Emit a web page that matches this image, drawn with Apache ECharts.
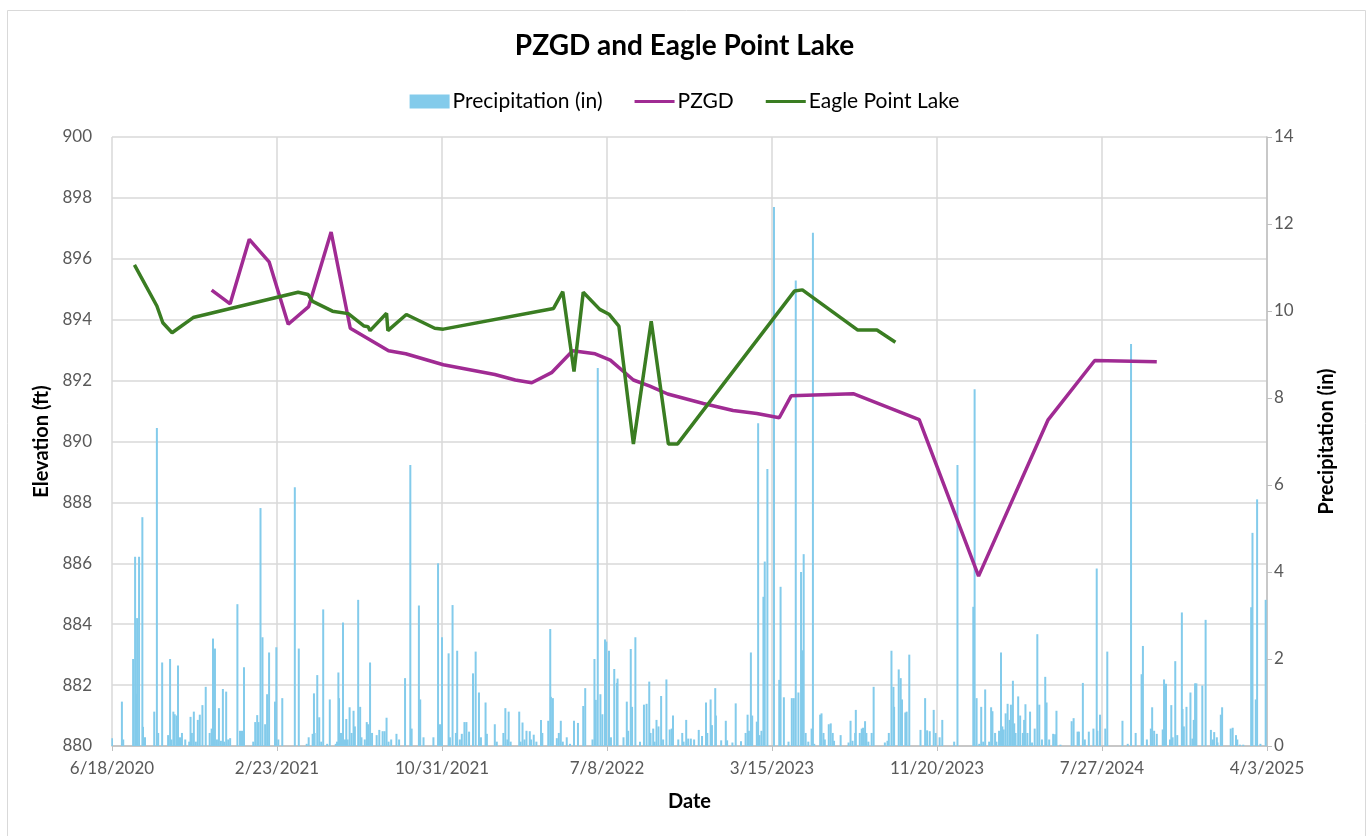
<!DOCTYPE html>
<html>
<head>
<meta charset="utf-8">
<title>PZGD and Eagle Point Lake</title>
<script src="https://cdn.jsdelivr.net/npm/echarts@6/dist/echarts.min.js"></script>
<style>
  html, body { margin: 0; padding: 0; background: #ffffff; }
  #chart { width: 1369px; height: 836px; }
</style>
</head>
<body>
<div id="chart"></div>
<script>
// Dates are spreadsheet serial day numbers (day 0 = 1899-12-30).
const xTickStart = 44000;   // 6/18/2020
const xTickEnd = 45750;     // 4/3/2025
const xTickStep = 250;

// Daily precipitation, inches: [serial day, inches]
const precipitation = [
  [44000,0.18],[44015,1.02],[44017,0.15],[44032,2.0],[44035,4.35],[44037,1.2],[44038,2.94],[44041,4.35],
  [44046,5.26],[44047,0.44],[44050,0.2],[44064,0.79],[44068,7.31],[44070,0.3],[44076,1.92],[44085,0.25],
  [44088,2.0],[44090,0.15],[44093,0.79],[44095,0.73],[44098,0.7],[44100,1.85],[44103,0.2],[44106,0.3],
  [44111,0.15],[44117,0.1],[44119,0.67],[44121,0.3],[44124,0.79],[44127,0.1],[44130,0.6],[44133,0.72],
  [44137,0.94],[44142,1.36],[44148,0.3],[44151,0.4],[44153,2.47],[44156,2.24],[44159,0.15],[44162,0.87],
  [44165,0.12],[44168,1.31],[44170,0.1],[44173,1.25],[44176,0.15],[44179,0.18],[44190,3.26],[44194,0.35],
  [44197,0.35],[44200,1.81],[44214,0.1],[44217,0.55],[44220,0.71],[44222,0.55],[44225,5.47],[44228,2.5],
  [44232,0.5],[44235,1.19],[44238,2.15],[44247,1.02],[44249,2.27],[44252,0.15],[44258,1.1],[44277,5.95],
  [44283,2.24],[44295,0.05],[44298,0.2],[44304,0.28],[44306,1.21],[44307,0.3],[44311,1.63],[44314,0.66],
  [44317,0.1],[44320,3.14],[44326,0.05],[44330,1.07],[44339,0.05],[44341,0.1],[44343,1.69],[44344,1.1],
  [44347,0.3],[44350,2.84],[44353,0.15],[44355,0.62],[44357,0.15],[44360,0.89],[44363,0.3],[44366,0.81],
  [44368,0.45],[44373,3.36],[44376,0.9],[44378,0.2],[44383,0.15],[44386,0.55],[44388,0.5],[44391,1.92],
  [44394,0.3],[44401,0.25],[44405,0.37],[44410,0.34],[44413,0.34],[44416,0.65],[44419,0.1],[44423,0.15],
  [44431,0.28],[44435,0.15],[44444,1.56],[44452,6.46],[44454,0.4],[44465,3.23],[44467,1.07],[44472,0.2],
  [44487,0.2],[44494,4.2],[44497,0.5],[44500,2.5],[44510,2.13],[44512,0.2],[44516,3.24],[44521,0.3],
  [44523,2.19],[44527,0.15],[44530,0.28],[44534,0.55],[44537,0.55],[44541,0.33],[44547,1.67],[44551,2.17],
  [44556,1.23],[44559,0.2],[44566,1.0],[44568,0.28],[44580,0.5],[44583,0.1],[44593,0.3],[44596,0.87],
  [44599,0.15],[44601,0.79],[44604,0.1],[44617,0.79],[44619,0.1],[44622,0.54],[44625,0.15],[44628,0.35],
  [44633,0.34],[44635,0.15],[44639,0.26],[44643,0.1],[44650,0.6],[44652,0.3],[44661,0.58],[44664,2.69],
  [44665,1.13],[44668,1.1],[44674,0.18],[44677,0.3],[44680,0.58],[44683,0.1],[44689,0.2],[44694,0.05],
  [44700,0.58],[44706,0.53],[44714,0.92],[44717,1.33],[44728,0.15],[44731,2.0],[44733,1.06],[44736,8.69],
  [44740,1.19],[44743,0.73],[44747,2.45],[44749,2.4],[44753,2.19],[44756,0.2],[44761,1.77],[44765,1.45],
  [44766,1.55],[44775,0.2],[44780,1.02],[44782,0.35],[44786,2.23],[44788,0.9],[44793,2.5],[44800,0.1],
  [44806,0.95],[44810,0.97],[44814,1.48],[44816,0.3],[44820,0.4],[44822,0.1],[44825,0.6],[44828,0.45],
  [44832,1.15],[44835,0.15],[44840,1.53],[44845,0.38],[44848,0.4],[44850,0.7],[44858,0.15],[44864,0.3],
  [44866,0.1],[44870,0.6],[44873,0.17],[44877,0.17],[44882,0.15],[44889,0.37],[44894,0.23],[44900,1.0],
  [44902,0.3],[44907,1.07],[44909,0.48],[44914,1.33],[44915,0.7],[44923,0.13],[44930,0.58],[44932,0.13],
  [44940,0.08],[44945,0.98],[44953,0.11],[44960,0.3],[44963,0.72],[44965,0.35],[44968,2.15],[44970,0.7],
  [44977,0.56],[44979,7.42],[44981,0.25],[44984,0.35],[44987,3.43],[44989,4.24],[44993,6.37],[45003,12.39],
  [45011,1.52],[45013,3.66],[45018,1.12],[45025,0.1],[45030,1.1],[45033,1.1],[45036,10.7],[45040,1.23],
  [45044,4.0],[45046,2.2],[45048,4.41],[45051,0.3],[45055,0.1],[45060,0.4],[45062,11.8],[45064,0.05],
  [45073,0.72],[45075,0.75],[45078,0.3],[45080,0.15],[45086,0.5],[45089,0.52],[45092,0.3],[45094,0.12],
  [45104,0.25],[45116,0.08],[45119,0.58],[45122,0.12],[45126,0.3],[45127,0.83],[45133,0.3],[45136,0.4],
  [45138,0.42],[45141,0.57],[45143,0.3],[45146,0.1],[45151,0.3],[45154,1.36],[45171,0.08],[45175,0.12],
  [45177,0.3],[45181,2.19],[45184,1.36],[45185,0.9],[45192,1.76],[45195,1.56],[45197,1.07],[45202,0.77],
  [45204,0.79],[45208,2.1],[45225,0.37],[45232,1.1],[45235,0.36],[45239,0.34],[45245,0.83],[45248,0.3],
  [45254,0.2],[45258,0.6],[45276,0.1],[45281,6.46],[45305,3.2],[45307,8.2],[45310,1.1],[45314,0.05],
  [45317,0.9],[45320,0.1],[45323,1.3],[45329,0.1],[45332,0.89],[45334,0.8],[45338,0.3],[45340,0.1],
  [45344,0.35],[45347,2.15],[45349,0.45],[45351,0.38],[45354,0.75],[45357,0.97],[45360,0.6],[45362,0.95],
  [45365,1.5],[45367,0.52],[45369,0.3],[45373,1.14],[45376,0.7],[45380,0.3],[45382,0.6],[45384,0.96],
  [45387,0.3],[45391,0.79],[45394,0.08],[45398,0.4],[45402,2.57],[45405,0.95],[45409,0.15],[45414,1.59],
  [45416,1.0],[45420,0.15],[45426,0.28],[45429,0.27],[45431,0.81],[45437,0.03],[45454,0.57],[45457,0.64],
  [45463,0.33],[45465,0.33],[45471,1.45],[45474,0.15],[45480,0.33],[45487,0.4],[45492,4.08],[45493,0.35],
  [45497,0.72],[45505,0.4],[45508,2.17],[45531,0.58],[45539,0.05],[45544,9.24],[45551,0.3],[45560,1.65],
  [45562,2.3],[45568,0.15],[45574,0.4],[45576,0.89],[45579,0.35],[45583,0.28],[45592,0.38],[45594,1.53],
  [45597,1.43],[45603,0.15],[45605,0.94],[45607,0.2],[45611,1.95],[45614,0.25],[45621,3.07],[45622,0.85],
  [45624,0.45],[45628,0.9],[45634,1.23],[45637,0.17],[45639,0.6],[45641,1.44],[45643,1.44],[45652,1.39],
  [45657,2.9],[45665,0.37],[45668,0.15],[45670,0.32],[45674,0.2],[45675,0.08],[45680,0.72],[45682,0.89],
  [45695,0.4],[45698,0.42],[45703,0.25],[45705,0.15],[45709,0.03],[45714,0.03],[45726,3.19],[45728,4.9],
  [45733,1.07],[45735,5.67],[45740,0.05],[45748,3.36]
];

// PZGD water elevation, ft: [serial day, ft]
const pzgd = [
  [44151,894.97],[44179,894.52],[44208,896.64],[44238,895.9],[44267,893.85],[44298,894.43],[44332,896.88],
  [44361,893.72],[44419,892.98],[44445,892.88],[44502,892.52],[44580,892.2],[44611,892.02],[44636,891.93],
  [44666,892.26],[44698,892.98],[44732,892.88],[44755,892.67],[44790,892.02],[44815,891.82],[44842,891.56],
  [44896,891.25],[44941,891.02],[44977,890.92],[45011,890.78],[45029,891.5],[45123,891.57],[45223,890.72],
  [45313,885.58],[45418,890.7],[45489,892.66],[45583,892.62]
];

// Eagle Point Lake elevation, ft: [serial day, ft]
const eaglePointLake = [
  [44034,895.8],[44068,894.45],[44077,893.9],[44091,893.57],[44123,894.07],[44282,894.9],[44297,894.83],
  [44304,894.6],[44334,894.28],[44358,894.2],[44382,893.79],[44388,893.77],[44391,893.64],[44416,894.21],
  [44418,893.64],[44446,894.17],[44489,893.72],[44502,893.69],[44669,894.37],[44683,894.92],[44700,892.3],
  [44714,894.9],[44739,894.34],[44753,894.18],[44768,893.79],[44790,889.92],[44817,893.95],[44843,889.92],
  [44857,889.92],[45034,894.94],[45046,894.98],[45130,893.66],[45159,893.66],[45187,893.26]
];

const seriesNames = ['Precipitation (in)', 'PZGD', 'Eagle Point Lake'];
const colors = { precip: '#83CBEB', pzgd: '#A02B93', eagle: '#3A7D22' };

function serialToLabel(serial) {
  const d = new Date(Date.UTC(1899, 11, 30) + Math.round(serial) * 86400000);
  return (d.getUTCMonth() + 1) + '/' + d.getUTCDate() + '/' + d.getUTCFullYear();
}

const FONT = 'Lato, "Open Sans", sans-serif';
const gridColor = '#D9D9D9';
const labelColor = '#595959';
// Legend key for the line series: a 3px stripe centred in a 40x14 box
const lineKey = 'path://M0,0 M0,5.5 L40,5.5 L40,8.5 L0,8.5 Z M40,14';

const chart = echarts.init(document.getElementById('chart'), null, { renderer: 'canvas' });

chart.setOption({
  backgroundColor: '#ffffff',
  animation: false,
  textStyle: { fontFamily: FONT },
  graphic: [{
    type: 'rect',
    shape: { x: 7.5, y: 10.5, width: 1358, height: 830 },
    style: { fill: 'none', stroke: '#D9D9D9', lineWidth: 1 },
    silent: true, z: -10
  }],
  title: {
    text: 'PZGD and Eagle Point Lake',
    left: 'center',
    top: 27,
    textStyle: { fontFamily: FONT, fontSize: 28, fontWeight: 'bold', color: '#000000' }
  },
  legend: {
    top: 86,
    left: 'center',
    itemGap: 32,
    itemWidth: 40,
    itemHeight: 14,
    textStyle: { fontFamily: FONT, fontSize: 21, color: '#000000', padding: [0, 0, 0, -2] },
    data: [
      { name: seriesNames[0], icon: 'rect' },
      { name: seriesNames[1], icon: lineKey },
      { name: seriesNames[2], icon: lineKey }
    ]
  },
  grid: { left: 112, right: 102, top: 137, bottom: 90, containLabel: false },
  xAxis: {
    type: 'value',
    min: xTickStart,
    max: xTickEnd,
    interval: xTickStep,
    name: 'Date',
    nameLocation: 'middle',
    nameGap: 46,
    nameTextStyle: { fontFamily: FONT, fontSize: 20, fontWeight: 'bold', color: '#000000' },
    axisLine: { show: true, lineStyle: { color: '#BFBFBF', width: 1.5 } },
    axisTick: { show: true, length: 5, lineStyle: { color: '#BFBFBF' } },
    axisLabel: {
      formatter: serialToLabel,
      fontFamily: FONT, fontSize: 17, color: labelColor, margin: 14
    },
    splitLine: { show: true, lineStyle: { color: gridColor, width: 1.5 } }
  },
  yAxis: [{
    type: 'value',
    min: 880,
    max: 900,
    interval: 2,
    name: 'Elevation (ft)',
    nameLocation: 'middle',
    nameRotate: 90,
    nameGap: 56,
    nameTextStyle: { fontFamily: FONT, fontSize: 20, fontWeight: 'bold', color: '#000000' },
    axisLine: { show: false },
    axisTick: { show: false },
    axisLabel: { fontFamily: FONT, fontSize: 17, color: labelColor, margin: 20 },
    splitLine: { show: true, lineStyle: { color: gridColor, width: 1.5 } }
  }, {
    type: 'value',
    min: 0,
    max: 14,
    interval: 2,
    position: 'right',
    name: 'Precipitation (in)',
    nameLocation: 'middle',
    nameRotate: 90,
    nameGap: 50,
    nameTextStyle: { fontFamily: FONT, fontSize: 20, fontWeight: 'bold', color: '#000000' },
    axisLine: { show: true, lineStyle: { color: '#BFBFBF', width: 1.5 } },
    axisTick: { show: true, length: 5, lineStyle: { color: '#BFBFBF' } },
    axisLabel: { fontFamily: FONT, fontSize: 17, color: labelColor, margin: 7 },
    splitLine: { show: false }
  }],
  series: [{
    name: seriesNames[0],
    type: 'bar',
    yAxisIndex: 1,
    barWidth: 2,
    itemStyle: { color: colors.precip },
    data: precipitation,
    z: 1
  }, {
    name: seriesNames[1],
    type: 'line',
    yAxisIndex: 0,
    showSymbol: false,
    symbol: 'none',
    lineStyle: { color: colors.pzgd, width: 3.5 },
    itemStyle: { color: colors.pzgd },
    data: pzgd,
    z: 3
  }, {
    name: seriesNames[2],
    type: 'line',
    yAxisIndex: 0,
    showSymbol: false,
    symbol: 'none',
    lineStyle: { color: colors.eagle, width: 3.5 },
    itemStyle: { color: colors.eagle },
    data: eaglePointLake,
    z: 4
  }]
});
</script>
</body>
</html>
